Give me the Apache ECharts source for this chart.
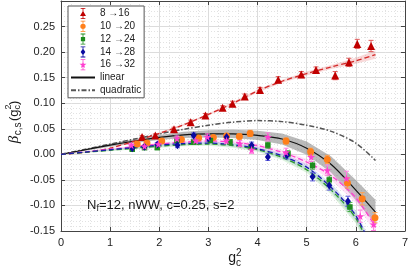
<!DOCTYPE html>
<html><head><meta charset="utf-8">
<script src="https://cdn.jsdelivr.net/npm/echarts@6/dist/echarts.min.js"></script>
<style>html,body{margin:0;padding:0;background:#fff}#c{width:411px;height:273px}</style>
</head><body><div id="c"></div>
<script>
// ---------- data ----------
const seriesNames = ['8 \u219216', '10 \u219220', '12 \u219224', '14 \u219228', '16 \u219232'];
const xTicks = [0, 1, 2, 3, 4, 5, 6, 7];
const yTicks = [-0.15, -0.10, -0.05, 0.00, 0.05, 0.10, 0.15, 0.20, 0.25];

const redG = [1.65,1.92,2.30,2.64,2.94,3.29,3.49,3.74,4.05,4.42,4.89,5.19,5.58,5.86,6.03,6.31];
const redB = [0.034,0.037,0.049,0.063,0.076,0.091,0.099,0.113,0.126,0.146,0.156,0.165,0.154,0.180,0.216,0.212];
const redE = [0.003,0.003,0.004,0.004,0.004,0.004,0.005,0.005,0.005,0.006,0.006,0.006,0.008,0.008,0.009,0.011];

const orangeG = [1.55,1.75,2.05,2.45,2.80,3.10,3.37,3.63,3.85,4.58,5.08,5.42,5.83,6.13,6.39];
const orangeB = [0.020,0.022,0.026,0.029,0.032,0.033,0.036,0.035,0.041,0.026,0.005,-0.010,-0.056,-0.087,-0.124];
const orangeE = [0.003,0.003,0.003,0.004,0.004,0.004,0.005,0.005,0.006,0.006,0.007,0.008,0.010,0.012,0.010];

const greenG = [1.45,1.70,1.96,2.36,2.70,3.04,3.44,3.87,4.21,4.62,5.12,5.46,5.88];
const greenB = [0.010,0.013,0.013,0.027,0.024,0.027,0.024,0.014,0.018,0.001,-0.022,-0.050,-0.103];
const greenE = [0.003,0.003,0.003,0.004,0.004,0.004,0.005,0.005,0.006,0.006,0.007,0.008,0.009];

const blueG = [1.45,1.70,1.96,2.37,2.70,3.00,3.37,3.88,4.21,4.60,5.12,5.46,5.84];
const blueB = [0.012,0.015,0.019,0.018,0.037,0.031,0.034,0.018,-0.005,-0.002,-0.044,-0.061,-0.092];
const blueE = [0.003,0.003,0.004,0.005,0.005,0.005,0.006,0.006,0.007,0.007,0.008,0.009,0.010];

const magentaG = [1.43,1.70,1.98,2.36,2.74,2.98,3.37,3.64,3.88,4.21,4.58,5.09,5.42,5.81,6.09,6.36];
const magentaB = [0.018,0.016,0.020,0.031,0.027,0.034,0.027,0.021,0.009,0.034,0.004,-0.005,-0.031,-0.047,-0.121,-0.137];
const magentaE = [0.003,0.003,0.004,0.005,0.005,0.006,0.006,0.006,0.007,0.008,0.008,0.009,0.010,0.014,0.012,0.012];

// fit curves read on a common g grid
const gFit      = [0,0.5,1,1.5,2,2.5,3,3.5,4,4.5,5,5.5,6,6.4];
const linearFit = [0,0.009,0.018,0.026,0.033,0.038,0.040,0.040,0.037,0.030,0.012,-0.020,-0.070,-0.113];
const linearHW  = [0,0.002,0.003,0.004,0.005,0.006,0.007,0.008,0.009,0.011,0.013,0.016,0.020,0.024];
const quadFit   = [0,0.010,0.020,0.030,0.040,0.049,0.057,0.063,0.066,0.064,0.057,0.045,0.022,-0.012];
const redFit    = [0,0.004,0.012,0.026,0.041,0.058,0.078,0.100,0.124,0.143,0.158,0.171,0.183,0.195];
const redHW     = [0,0.001,0.001,0.002,0.002,0.002,0.002,0.003,0.003,0.003,0.004,0.004,0.006,0.008];
const magentaFit= [0,0.005,0.010,0.015,0.020,0.024,0.026,0.024,0.017,0.004,-0.015,-0.042,-0.085,-0.142];
const blueFit   = [0,0.0045,0.009,0.0135,0.018,0.021,0.022,0.019,0.011,-0.003,-0.025,-0.065,-0.120,-0.200];
const greenFit  = [0,0.004,0.008,0.012,0.016,0.019,0.020,0.017,0.009,-0.006,-0.030,-0.070,-0.125,-0.205];
const smallHW   = [0,0.001,0.002,0.002,0.003,0.003,0.003,0.004,0.004,0.005,0.006,0.008,0.010,0.012];

// ---------- helpers ----------
const FONT = 'Liberation Sans, Arial, sans-serif';
const pts = (g, b, e) => g.map((v, i) => e ? [v, b[i], e[i]] : [v, b[i]]);

function errRender(color) {
  return function (params, api) {
    const x = api.value(0), y = api.value(1), e = api.value(2);
    const p1 = api.coord([x, y + e]), p2 = api.coord([x, y - e]);
    const w = 2.5, st = { stroke: color, lineWidth: 1 };
    return { type: 'group', children: [
      { type: 'line', shape: { x1: p1[0], y1: p1[1], x2: p2[0], y2: p2[1] }, style: st },
      { type: 'line', shape: { x1: p1[0] - w, y1: p1[1], x2: p1[0] + w, y2: p1[1] }, style: st },
      { type: 'line', shape: { x1: p2[0] - w, y1: p2[1], x2: p2[0] + w, y2: p2[1] }, style: st }
    ]};
  };
}
function bandSeries(fit, hw, color) {
  return {
    type: 'custom', silent: true, clip: true, z: 1,
    data: pts(gFit, fit),
    encode: { x: 0, y: 1 },
    renderItem: function (params, api) {
      if (params.dataIndex !== 0) return;
      const p = [];
      for (let i = 0; i < gFit.length; i++) p.push(api.coord([gFit[i], fit[i] + hw[i]]));
      for (let i = gFit.length - 1; i >= 0; i--) p.push(api.coord([gFit[i], fit[i] - hw[i]]));
      return { type: 'polygon', shape: { points: p }, style: { fill: color } };
    }
  };
}
function fitLine(name, fit, color, width, dash) {
  return {
    name: name, type: 'line', data: pts(gFit, fit), symbol: 'none', showSymbol: false,
    smooth: 0.3, clip: true, z: 2, silent: true,
    itemStyle: { color: color },
    lineStyle: { color: color, width: width, type: dash }
  };
}
function errSeries(g, b, e, color) {
  return { type: 'custom', clip: true, z: 3, silent: true, data: pts(g, b, e),
           encode: { x: 0, y: 1 }, renderItem: errRender(color) };
}
function markSeries(name, g, b, color, symbol, size) {
  return { name: name, type: 'scatter', data: pts(g, b), symbol: symbol, symbolSize: size,
           z: 4, itemStyle: { color: color, opacity: 1 } };
}

const STAR = 'path://M50,0L61,35L98,35L68,57L79,91L50,70L21,91L32,57L2,35L39,35Z';
function legendIcon(shape) {
  const bar = 'M4.5,0h1v14h-1zM2,0h6v1h-6zM2,13h6v1h-6z';
  const shapes = {
    tri: 'M5,3.5L8.8,10.2H1.2Z',
    circ: 'M5,3.6A3.4,3.4,0,1,1,4.99,3.6Z',
    sq: 'M2.3,4.3h5.4v5.4h-5.4z',
    dia: 'M5,2.8L8,7L5,11.2L2,7Z',
    star: 'M5,2.6L6.1,5.9L9.4,5.9L6.7,7.9L7.7,11.2L5,9.2L2.3,11.2L3.3,7.9L0.6,5.9L3.9,5.9Z'
  };
  return 'path://' + bar + shapes[shape];
}

const mctx = document.createElement('canvas').getContext('2d');
function tw(t, font) { mctx.font = font; return mctx.measureText(t).width; }
// pieces: {t, size, dy, italic, serif, stack}
function mathText(pieces, gx, gy, rotation, anchor) {
  let x = 0, prevX = 0, maxX = 0;
  const items = [];
  for (const p of pieces) {
    const font = (p.italic ? 'italic ' : '') + p.size + 'px ' + (p.serif ? 'Liberation Serif, serif' : FONT);
    const px = p.stack ? prevX : x;
    items.push({ t: p.t, font: font, x: px, y: p.dy || 0 });
    const w = tw(p.t, font);
    if (!p.stack) { prevX = x; x = px + w + (p.gap || 0); }
    maxX = Math.max(maxX, px + w);
  }
  const off = anchor === 'left' ? 0 : -maxX / 2;
  return {
    type: 'group', x: gx, y: gy, rotation: rotation || 0, silent: true, z: 10,
    children: items.map(it => ({
      type: 'text', x: it.x + off, y: it.y, z: 10,
      style: { text: it.t, font: it.font, fill: '#1a1a1a', textVerticalAlign: 'middle', textAlign: 'left' }
    }))
  };
}

// ---------- chart ----------
const chart = echarts.init(document.getElementById('c'), null, { renderer: 'canvas' });

const axisCommon = {
  type: 'value', axisLine: { show: true, onZero: false, lineStyle: { color: '#444', width: 1 } },
  axisTick: { show: true, inside: true, length: 4, lineStyle: { color: '#444' } }
};

const option = {
  animation: false,
  backgroundColor: '#fff',
  grid: { left: 61, right: 3, top: 1, bottom: 42, containLabel: false },
  xAxis: [
    Object.assign({}, axisCommon, {
      min: xTicks[0], max: xTicks[xTicks.length - 1], interval: 1, position: 'bottom',
      axisLabel: { fontSize: 11, color: '#222', fontFamily: FONT, margin: 6 },
      splitLine: { show: true, lineStyle: { color: '#dcdcdc', width: 1 } },
      minorTick: { show: false, splitNumber: 5 },
      minorSplitLine: { show: true, lineStyle: { color: '#e2e2e2', type: [1, 2], width: 1 } }
    }),
    Object.assign({}, axisCommon, {
      min: xTicks[0], max: xTicks[xTicks.length - 1], interval: 1, position: 'top',
      axisLabel: { show: false }, splitLine: { show: false }
    })
  ],
  yAxis: [
    Object.assign({}, axisCommon, {
      min: yTicks[0], max: 0.30, interval: 0.05, position: 'left',
      axisLabel: { fontSize: 11, color: '#222', fontFamily: FONT, margin: 6, showMaxLabel: false,
        formatter: v => (Math.abs(v) < 1e-9 ? '0.00' : v.toFixed(2)) },
      splitLine: { show: true, lineStyle: { color: '#dcdcdc', width: 1 } },
      minorTick: { show: false, splitNumber: 5 },
      minorSplitLine: { show: true, lineStyle: { color: '#e2e2e2', type: [1, 2], width: 1 } }
    }),
    Object.assign({}, axisCommon, {
      min: yTicks[0], max: 0.30, interval: 0.05, position: 'right',
      axisLabel: { show: false }, splitLine: { show: false }
    })
  ],
  legend: {
    orient: 'vertical', left: 68, top: 6,
    backgroundColor: '#fff', borderColor: '#555', borderWidth: 1, padding: [2, 3, 2, 2],
    itemWidth: 24, itemHeight: 11, itemGap: 1.8,
    textStyle: { fontSize: 10, fontFamily: FONT, color: '#222', lineHeight: 11 },
    selectedMode: false,
    data: [
      { name: seriesNames[0], icon: legendIcon('tri') },
      { name: seriesNames[1], icon: legendIcon('circ') },
      { name: seriesNames[2], icon: legendIcon('sq') },
      { name: seriesNames[3], icon: legendIcon('dia') },
      { name: seriesNames[4], icon: legendIcon('star') },
      { name: 'linear', itemStyle: { opacity: 0, color: 'rgba(0,0,0,0)', borderWidth: 0 } },
      { name: 'quadratic', itemStyle: { opacity: 0, color: 'rgba(0,0,0,0)', borderWidth: 0 } }
    ]
  },
  series: [
    bandSeries(linearFit, linearHW, 'rgba(140,140,140,0.6)'),
    bandSeries(redFit, redHW, 'rgba(235,120,120,0.28)'),
    bandSeries(magentaFit, smallHW, 'rgba(255,150,230,0.28)'),
    bandSeries(blueFit, smallHW, 'rgba(130,150,235,0.28)'),
    bandSeries(greenFit, smallHW, 'rgba(130,210,130,0.28)'),
    fitLine('quadratic', quadFit, '#555555', 1.5, [5, 2, 1.5, 2]),
    fitLine('linear', linearFit, '#111111', 1.2, 'solid'),
    fitLine('redfit', redFit, '#d42a2a', 1.3, [5, 3]),
    fitLine('magentafit', magentaFit, '#ff40d0', 1.3, [5, 3]),
    fitLine('greenfit', greenFit, '#2a9a2a', 1.3, [5, 3]),
    fitLine('bluefit', blueFit, '#1a1ab0', 1.3, [5, 3]),
    errSeries(redG, redB, redE, '#e05a5a'),
    errSeries(orangeG, orangeB, orangeE, '#ffa050'),
    errSeries(greenG, greenB, greenE, '#40aa40'),
    errSeries(blueG, blueB, blueE, '#6060e0'),
    errSeries(magentaG, magentaB, magentaE, '#ff80e0'),
    markSeries(seriesNames[0], redG, redB, '#c00000', 'triangle', 8),
    markSeries(seriesNames[1], orangeG, orangeB, '#ff7f1a', 'circle', 7),
    markSeries(seriesNames[2], greenG, greenB, '#1e8c1e', 'rect', 5.5),
    markSeries(seriesNames[3], blueG, blueB, '#0a0aa0', 'diamond', [6, 8]),
    markSeries(seriesNames[4], magentaG, magentaB, '#ff3fd0', STAR, 8)
  ],
  graphic: [
    mathText([
      { t: '\u03b2', size: 15, italic: true, serif: true, gap: 0.5 },
      { t: 'c,s', size: 10, dy: 4, gap: 1.5 },
      { t: '(g', size: 13 },
      { t: 'c', size: 9, dy: 4 },
      { t: '2', size: 9, dy: -5, stack: true, gap: 0.5 },
      { t: ')', size: 13 }
    ], 14, 122, Math.PI / 2),
    mathText([
      { t: 'g', size: 14 },
      { t: 'c', size: 10, dy: 5 },
      { t: '2', size: 10, dy: -5, stack: true }
    ], 235, 258, 0),
    mathText([
      { t: 'N', size: 13 },
      { t: 'f', size: 9, dy: 4 },
      { t: '=12, nWW, c=0.25, s=2', size: 13 }
    ], 87, 205, 0, 'left')
  ]
};
chart.setOption(option);
</script></body></html>
